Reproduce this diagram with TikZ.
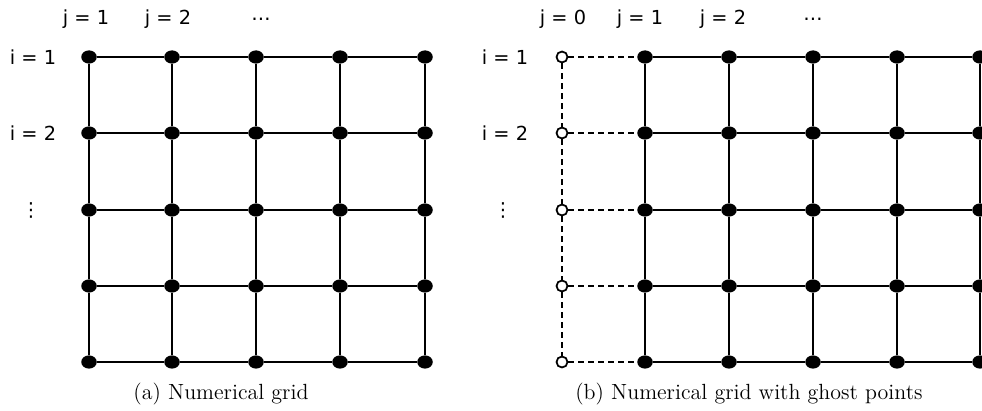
\documentclass[tikz,border=0pt]{standalone}
\usepackage{fontspec}
\newfontfamily\labelfont{DejaVu Sans}
\usetikzlibrary{shapes.geometric}
\begin{document}
\begin{tikzpicture}[x=0.02cm,y=-0.02cm,
  dot/.style={ellipse,fill=black,inner sep=0pt,minimum width=0.31cm,minimum height=0.265cm},
  ghost/.style={circle,draw=black,fill=white,line width=1pt,inner sep=0pt,minimum size=0.22cm},
  gridline/.style={line width=0.7pt},
  ghostline/.style={line width=0.7pt,dash pattern=on 3.4pt off 2.3pt},
  idx/.style={font=\labelfont\fontsize{11}{13}\selectfont},
  caption/.style={font=\fontsize{12.5}{15}\selectfont}]
  \useasboundingbox (0,0) rectangle (982,411);
  % (a) numerical grid
  \foreach \i/\y in {1/57,2/133,3/210,4/286,5/362}
    \foreach \j/\x in {1/89,2/172,3/256,4/340,5/425}
      \node[dot] (a-\i-\j) at (\x,\y) {};
  \foreach \k in {1,...,5} {
    \draw[gridline] (a-\k-1) -- (a-\k-2) -- (a-\k-3) -- (a-\k-4) -- (a-\k-5);
    \draw[gridline] (a-1-\k) -- (a-2-\k) -- (a-3-\k) -- (a-4-\k) -- (a-5-\k);
  }
  \node[idx] (aj1) at (86,19) {j = 1};
  \node[idx] (aj2) at (168,19) {j = 2};
  \node[idx] (ajdots) at (261,19) {…};
  \node[idx] (ai1) at (33,57) {i = 1};
  \node[idx] (ai2) at (33,133) {i = 2};
  \node[idx] (aidots) at (31,210) {⋮};
  \node[caption] (capa) at (221,394) {(a) Numerical grid};
  % (b) numerical grid with ghost points
  \foreach \i/\y in {1/57,2/133,3/210,4/286,5/362} {
    \node[ghost] (b-\i-0) at (562,\y) {};
    \foreach \j/\x in {1/645,2/729,3/813,4/897,5/980}
      \node[dot] (b-\i-\j) at (\x,\y) {};
  }
  \foreach \k in {1,...,5} {
    \draw[gridline] (b-\k-1) -- (b-\k-2) -- (b-\k-3) -- (b-\k-4) -- (b-\k-5);
    \draw[gridline] (b-1-\k) -- (b-2-\k) -- (b-3-\k) -- (b-4-\k) -- (b-5-\k);
    \draw[ghostline] (b-\k-0) -- (b-\k-1);
  }
  \draw[ghostline] (b-1-0) -- (b-2-0) -- (b-3-0) -- (b-4-0) -- (b-5-0);
  \node[idx] (bj0) at (563,19) {j = 0};
  \node[idx] (bj1) at (640,19) {j = 1};
  \node[idx] (bj2) at (723,19) {j = 2};
  \node[idx] (bjdots) at (813,19) {…};
  \node[idx] (bi1) at (505,57) {i = 1};
  \node[idx] (bi2) at (505,133) {i = 2};
  \node[idx] (bidots) at (503,210) {⋮};
  \node[caption] (capb) at (749,394) {(b) Numerical grid with ghost points};
\end{tikzpicture}
\end{document}
